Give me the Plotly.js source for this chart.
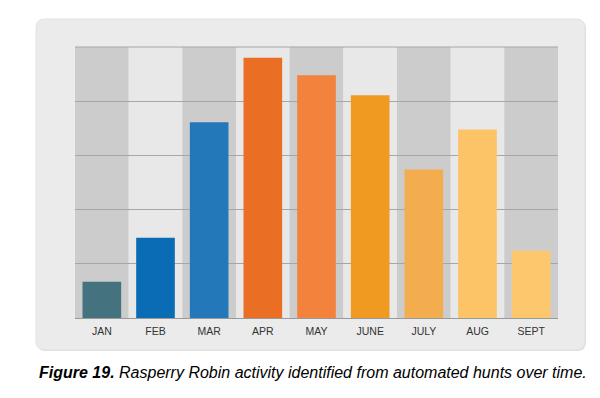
<!DOCTYPE html>
<html><head><meta charset="utf-8">
<script src="https://cdn.plot.ly/plotly-3.0.1.min.js"></script>
<style>html,body{margin:0;padding:0;background:#fff;}#chart{width:600px;height:398px;}</style>
</head><body><div id="chart"></div>
<script>
var months = ["JAN","FEB","MAR","APR","MAY","JUNE","JULY","AUG","SEPT"];
var activity = [0.67, 1.48, 3.61, 4.80, 4.48, 4.11, 2.74, 3.48, 1.24];
var barColors = ["#45727f","#0b6cb6","#2278b9","#ea6f25","#f2823c","#f19a22","#f3ac4e","#fcc466","#fdc86d"];
var caption = "<b>Figure 19.</b> Rasperry Robin activity identified from automated hunts over time.";

var W = 600, H = 398, mL = 75, mR = 42, mT = 47, mB = 80;
var pw = W - mL - mR, ph = H - mT - mB;
function px(x){ return (x - mL) / pw; }
function py(y){ return (H - mB - y) / ph; }

var x0 = 36, x1 = 585, y0 = 19, y1 = 350, r = 9;
function P(x, y){ return px(x).toFixed(5) + "," + py(y).toFixed(5); }
function roundRect(a0, b0, a1, b1, rr){
  return "M" + P(a0 + rr, b0) + " L" + P(a1 - rr, b0) + " Q" + P(a1, b0) + " " + P(a1, b0 + rr) +
    " L" + P(a1, b1 - rr) + " Q" + P(a1, b1) + " " + P(a1 - rr, b1) +
    " L" + P(a0 + rr, b1) + " Q" + P(a0, b1) + " " + P(a0, b1 - rr) +
    " L" + P(a0, b0 + rr) + " Q" + P(a0, b0) + " " + P(a0 + rr, b0) + " Z";
}

var shapes = [{
  type: "path", xref: "paper", yref: "paper", path: roundRect(x0 + 1, y0 + 1, x1 + 1, y1 + 1, r),
  fillcolor: "#dedede", line: {width: 0}, layer: "below"
},{
  type: "path", xref: "paper", yref: "paper", path: roundRect(x0, y0, x1, y1, r),
  fillcolor: "#ebebeb", line: {color: "#e2e2e2", width: 1}, layer: "below"
}];
months.forEach(function(m, i){
  shapes.push({
    type: "rect", xref: "x", yref: "paper", x0: i - 0.5, x1: i + 0.5, y0: 0, y1: 1,
    fillcolor: (i % 2 === 0) ? "#cccccc" : "#e8e8e8", line: {width: 0}, layer: "below"
  });
});
shapes.push({
  type: "line", xref: "paper", yref: "paper", x0: 0, x1: 1, y0: 1, y1: 1,
  line: {color: "#a6a6a6", width: 1}, layer: "below"
});

var trace = {
  type: "bar", x: months, y: activity,
  marker: {color: barColors, line: {width: 0}},
  hoverinfo: "x+y"
};

var layout = {
  width: W, height: H,
  margin: {l: mL, r: mR, t: mT, b: mB},
  paper_bgcolor: "#ffffff",
  plot_bgcolor: "rgba(0,0,0,0)",
  bargap: 0.28,
  showlegend: false,
  font: {family: "Liberation Sans, Arial, sans-serif", color: "#333"},
  xaxis: {
    type: "category", showgrid: false, showline: true, linecolor: "#999", linewidth: 1,
    ticks: "", ticklabelstandoff: 3, tickfont: {size: 10.5, color: "#333"}, fixedrange: true, zeroline: false
  },
  yaxis: {
    range: [0, 5], dtick: 1, showgrid: true, gridcolor: "#a6a6a6", gridwidth: 1,
    showticklabels: false, ticks: "", zeroline: false, showline: false, fixedrange: true
  },
  shapes: shapes,
  annotations: [{
    xref: "paper", yref: "paper", x: px(37), y: py(372), xanchor: "left", yanchor: "middle",
    text: "<i>" + caption + "</i>", showarrow: false,
    font: {family: "Liberation Sans, Arial, sans-serif", size: 16, color: "#000"}
  }]
};

Plotly.newPlot("chart", [trace], layout, {displayModeBar: false, staticPlot: true});
</script>
</body></html>
